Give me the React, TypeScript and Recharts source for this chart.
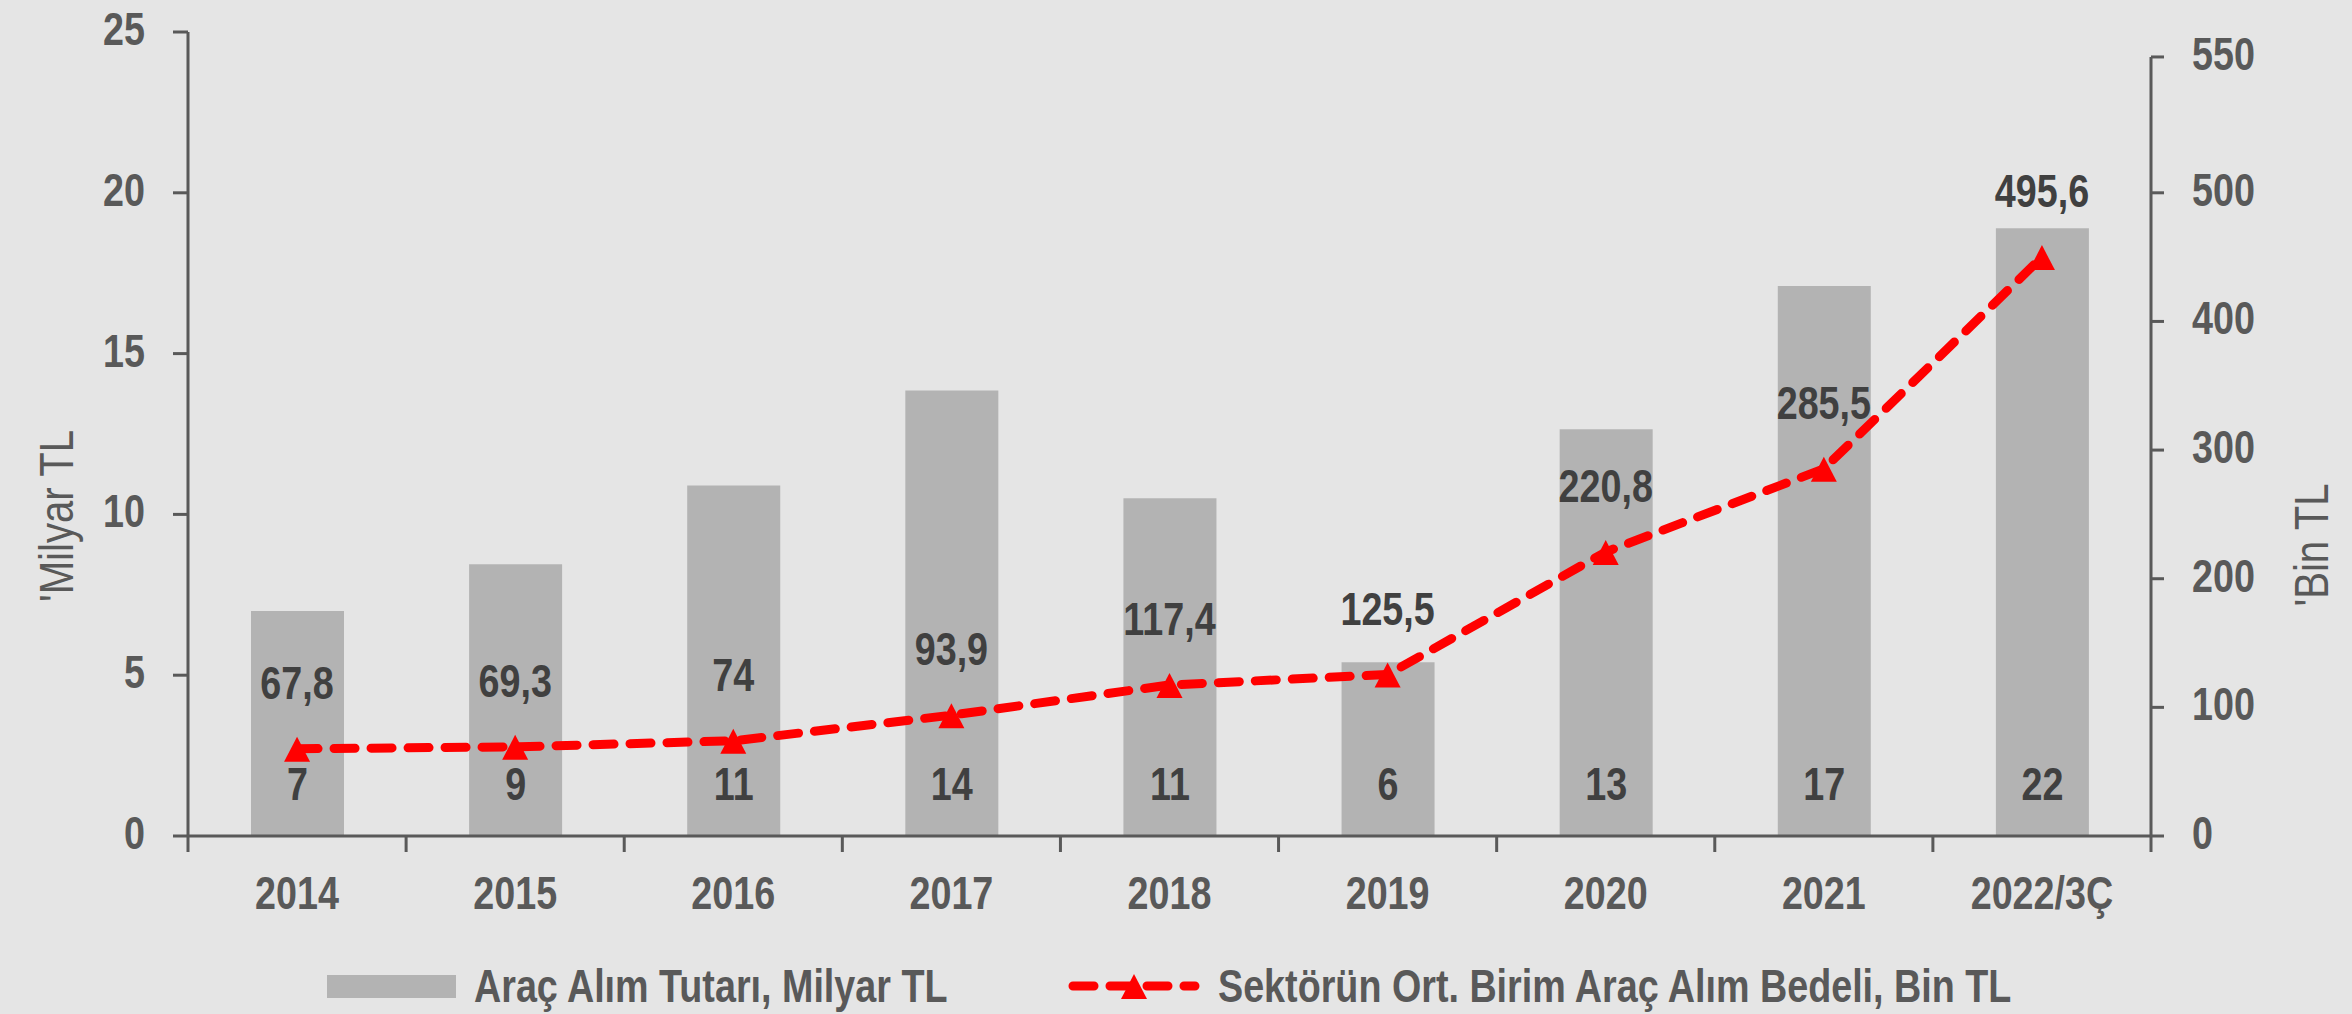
import React from 'react';
import { ComposedChart, Bar, Line, XAxis, YAxis, LabelList, Legend } from 'recharts';

const categories = ['2014', '2015', '2016', '2017', '2018', '2019', '2020', '2021', '2022/3Ç'];
const amountValues = [7.0, 8.45, 10.9, 13.85, 10.5, 5.4, 12.65, 17.1, 18.9];
const amountLabels = ['7', '9', '11', '14', '11', '6', '13', '17', '22'];
const unitPriceValues = [67.8, 69.3, 74, 93.9, 117.4, 125.5, 220.8, 285.5, 450];
const unitPriceLabels = ['67,8', '69,3', '74', '93,9', '117,4', '125,5', '220,8', '285,5', '495,6'];
const leftTicks = [0, 5, 10, 15, 20, 25];
const rightTicks = [0, 100, 200, 300, 400, 500, 605.6];
const rightTickLabels = ['0', '100', '200', '300', '400', '500', '550'];
const categoryBoundaries = [0, 1, 2, 3, 4, 5, 6, 7, 8, 9];

const amountName = 'Araç Alım Tutarı, Milyar TL';
const unitPriceName = 'Sektörün Ort. Birim Araç Alım Bedeli, Bin TL';
const leftTitle = "'Milyar TL";
const rightTitle = "'Bin TL";

const data = categories.map((category, i) => ({
  category,
  amount: amountValues[i],
  amountLabel: amountLabels[i],
  unitPrice: unitPriceValues[i],
  unitPriceLabel: unitPriceLabels[i],
}));

const FONT = "'Liberation Sans', Arial, sans-serif";
const NARROW = 0.82;
const AXIS = '#595959';
const LABEL = '#404040';
const RED = '#ff0000';
const BAR = '#b3b3b3';
const FS = 46;

const NarrowText = ({ x, y, anchor, fill, weight, size, children }: any) => (
  <text
    transform={`translate(${x},${y}) scale(${NARROW},1)`}
    x={0}
    y={0}
    textAnchor={anchor}
    fill={fill}
    fontWeight={weight}
    fontSize={size}
    fontFamily={FONT}
  >
    {children}
  </text>
);

const TriangleDot = (props: any) => {
  const { cx, cy } = props;
  if (cx == null || cy == null) return null;
  return (
    <polygon
      points={`${cx},${cy - 12} ${cx - 13},${cy + 13} ${cx + 13},${cy + 13}`}
      fill={RED}
    />
  );
};

const XTick = (props: any) => {
  const { x, y, payload } = props;
  return (
    <NarrowText x={x} y={y + 33} anchor="middle" fill={AXIS} weight="bold" size={FS}>
      {payload.value}
    </NarrowText>
  );
};

const LeftTick = (props: any) => {
  const { x, y, payload } = props;
  return (
    <NarrowText x={x} y={y + 13} anchor="end" fill={AXIS} weight="bold" size={FS}>
      {payload.value}
    </NarrowText>
  );
};

const RightTick = (props: any) => {
  const { x, y, payload } = props;
  const idx = rightTicks.indexOf(payload.value);
  return (
    <NarrowText x={x} y={y + 13} anchor="start" fill={AXIS} weight="bold" size={FS}>
      {idx >= 0 ? rightTickLabels[idx] : payload.value}
    </NarrowText>
  );
};

const getBox = (p: any) => {
  const vb = p.viewBox || {};
  return {
    x: vb.x ?? p.x ?? 0,
    y: vb.y ?? p.y ?? 0,
    width: vb.width ?? p.width ?? 0,
    height: vb.height ?? p.height ?? 0,
  };
};

const BarValueLabel = (props: any) => {
  const b = getBox(props);
  return (
    <NarrowText x={b.x + b.width / 2} y={b.y + b.height - 36} anchor="middle" fill={LABEL} weight="bold" size={FS}>
      {props.value}
    </NarrowText>
  );
};

const LineValueLabel = (props: any) => {
  const b = getBox(props);
  return (
    <NarrowText x={b.x + b.width / 2} y={b.y - 50} anchor="middle" fill={LABEL} weight="bold" size={FS}>
      {props.value}
    </NarrowText>
  );
};

const AxisTitle = (props: any) => {
  const { viewBox, value, dxFromLeft, dyFromCenter } = props;
  if (!viewBox) return null;
  const x = viewBox.x + dxFromLeft;
  const y = viewBox.y + viewBox.height / 2 + dyFromCenter;
  return (
    <text
      transform={`translate(${x},${y}) rotate(-90) scale(${NARROW},1)`}
      x={0}
      y={0}
      textAnchor="middle"
      dominantBaseline="central"
      fill={AXIS}
      fontSize={49}
      fontFamily={FONT}
    >
      {value}
    </text>
  );
};

const legendStarts = [327, 1068];

const renderLegend = (props: any) => {
  const { payload } = props;
  return (
    <svg width={2352} height={62} style={{ display: 'block' }}>
      {(payload || []).map((entry: any, i: number) => {
        const sx = legendStarts[i] ?? 0;
        const isRect = entry.type === 'rect';
        const iconW = isRect ? 129 : 132;
        return (
          <g key={i}>
            {isRect ? (
              <rect x={sx} y={20} width={129} height={23} fill={entry.color} />
            ) : (
              <g>
                <line
                  x1={sx + 5}
                  y1={31}
                  x2={sx + 127}
                  y2={31}
                  stroke={entry.color}
                  strokeWidth={9}
                  strokeDasharray="21 16"
                  strokeLinecap="round"
                />
                <polygon
                  points={`${sx + 66},${19} ${sx + 53},${44} ${sx + 79},${44}`}
                  fill={entry.color}
                />
              </g>
            )}
            <NarrowText x={sx + iconW + 18} y={47} anchor="start" fill={AXIS} weight="bold" size={FS}>
              {entry.value}
            </NarrowText>
          </g>
        );
      })}
    </svg>
  );
};

const zeroKey = () => 0;

export default function App() {
  return (
    <div style={{ position: 'absolute', left: 0, top: 0, width: 2352, height: 1014, background: '#e5e5e5' }}>
      <ComposedChart
        width={2352}
        height={1014}
        data={data}
        margin={{ top: 32, right: 0, bottom: 176, left: 0 }}
      >
        <XAxis
          xAxisId="bounds"
          type="number"
          dataKey={zeroKey}
          domain={[0, 9]}
          ticks={categoryBoundaries}
          allowDataOverflow
          height={1}
          tick={() => null}
          tickSize={16}
          axisLine={{ stroke: AXIS, strokeWidth: 3 }}
          tickLine={{ stroke: AXIS, strokeWidth: 3 }}
        />
        <XAxis
          xAxisId="cat"
          dataKey="category"
          height={1}
          interval={0}
          axisLine={false}
          tickLine={false}
          tickSize={0}
          tickMargin={39}
          tick={<XTick />}
        />
        <YAxis
          yAxisId="left"
          width={188}
          domain={[0, 25]}
          ticks={leftTicks}
          interval={0}
          tickSize={15}
          tickMargin={28}
          tick={<LeftTick />}
          axisLine={{ stroke: AXIS, strokeWidth: 3 }}
          tickLine={{ stroke: AXIS, strokeWidth: 3 }}
          label={<AxisTitle value={leftTitle} dxFromLeft={56} dyFromCenter={82} />}
        />
        <YAxis
          yAxisId="right"
          orientation="right"
          width={201}
          domain={[0, 625]}
          ticks={rightTicks}
          interval={0}
          tickSize={13}
          tickMargin={28}
          tick={<RightTick />}
          axisLine={{ stroke: AXIS, strokeWidth: 3, strokeDasharray: '0 25 3000' }}
          tickLine={{ stroke: AXIS, strokeWidth: 3 }}
          label={<AxisTitle value={rightTitle} dxFromLeft={160} dyFromCenter={111} />}
        />
        <Bar
          xAxisId="cat"
          yAxisId="left"
          dataKey="amount"
          name={amountName}
          fill={BAR}
          barSize={93}
          legendType="rect"
          isAnimationActive={false}
        >
          <LabelList dataKey="amountLabel" content={<BarValueLabel />} />
        </Bar>
        <Line
          xAxisId="cat"
          yAxisId="right"
          dataKey="unitPrice"
          name={unitPriceName}
          type="linear"
          stroke={RED}
          strokeWidth={9}
          strokeDasharray="21 16"
          strokeLinecap="round"
          dot={<TriangleDot />}
          activeDot={false}
          legendType="line"
          isAnimationActive={false}
        >
          <LabelList dataKey="unitPriceLabel" content={<LineValueLabel />} />
        </Line>
        <Legend
          layout="horizontal"
          align="center"
          verticalAlign="middle"
          content={renderLegend}
          wrapperStyle={{ top: 955, left: 0, width: 2352, height: 62 }}
        />
      </ComposedChart>
    </div>
  );
}
